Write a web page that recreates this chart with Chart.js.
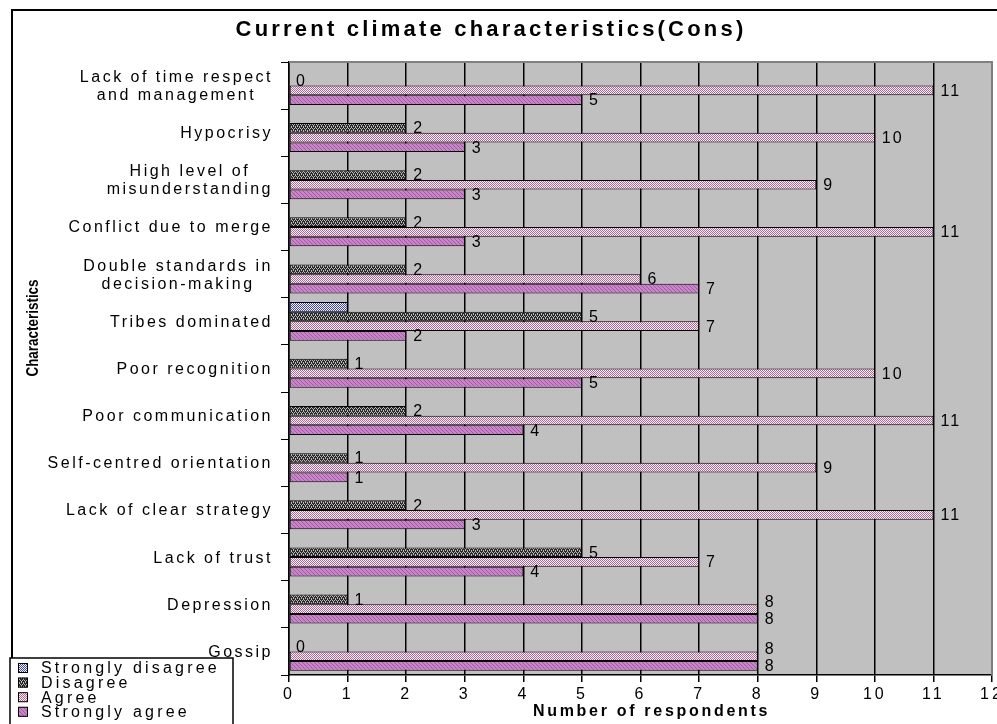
<!DOCTYPE html>
<html>
<head>
<meta charset="utf-8">
<script src="https://cdn.jsdelivr.net/npm/chart.js@4.4.1/dist/chart.umd.min.js"></script>
<style>
  html, body { margin: 0; padding: 0; background: #fff; overflow: hidden; }
  #wrap { width: 997px; height: 724px; overflow: hidden; }
</style>
</head>
<body>
<div id="wrap"><canvas id="chart" width="1010" height="740"></canvas></div>
<script>
// categories, top to bottom
const categories = [
    ['Lack of time respect', 'and management'],
    'Hypocrisy',
    ['High level of', 'misunderstanding'],
    'Conflict due to merge',
    ['Double standards in', 'decision-making'],
    'Tribes dominated',
    'Poor recognition',
    'Poor communication',
    'Self-centred orientation',
    'Lack of clear strategy',
    'Lack of trust',
    'Depression',
    'Gossip'
];
const seriesNames = ['Strongly disagree', 'Disagree', 'Agree', 'Strongly agree'];
const stronglyDisagree = [null, null, null, null, null, 1, null, null, null, null, null, null, null];
const disagree = [0, 2, 2, 2, 2, 5, 1, 2, 1, 2, 5, 1, 0];
const agree = [11, 10, 9, 11, 6, 7, 10, 11, 9, 11, 7, 8, 8];
const stronglyAgree = [5, 3, 3, 3, 7, 2, 5, 4, 1, 3, 4, 8, 8];
const xTicks = [0, 1, 2, 3, 4, 5, 6, 7, 8, 9, 10, 11, 12];

const FONT = '"Liberation Sans", Arial, sans-serif';
Chart.defaults.font.family = FONT;
Chart.defaults.color = '#000';

// little tiled fills like the excel hatches
function makePattern(bg, fg, dots) {
    const c = document.createElement('canvas');
    c.width = 4; c.height = 4;
    const g = c.getContext('2d');
    g.fillStyle = bg;
    g.fillRect(0, 0, 4, 4);
    g.fillStyle = fg;
    dots.forEach(d => g.fillRect(d[0], d[1], 1, 1));
    return g.createPattern(c, 'repeat');
}
const checker = [[0,0],[2,0],[1,1],[3,1],[0,2],[2,2],[1,3],[3,3]];
const diag = [[0,0],[1,1],[2,2],[3,3]];
const patterns = [
    makePattern('#ffffff', '#3a3aff', checker),
    makePattern('#2a2a2a', '#b8b8b8', [[0,0],[2,0],[1,2],[3,2],[1,1],[3,3]]),
    makePattern('#ffffff', '#cc5a94', checker),
    makePattern('#c884c8', '#a658a6', diag)
];
const seriesData = [stronglyDisagree, disagree, agree, stronglyAgree];

const framePlugin = {
    id: 'frame',
    beforeDraw(chart) {
        const ctx = chart.ctx;
        const a = chart.chartArea;
        ctx.save();
        ctx.fillStyle = '#fff';
        ctx.fillRect(0, 0, chart.width, chart.height);
        ctx.strokeStyle = '#000';
        ctx.lineWidth = 2;
        ctx.strokeRect(12, 10, 1100, 800);
        ctx.fillStyle = '#c0c0c0';
        ctx.fillRect(a.left, a.top, a.right - a.left, a.bottom - a.top);
        ctx.restore();
        ctx.letterSpacing = '3px';
    },
    afterDatasetsDraw(chart) {
        const ctx = chart.ctx;
        ctx.save();
        ctx.font = '16px ' + FONT;
        ctx.letterSpacing = '2px';
        ctx.fillStyle = '#000';
        ctx.textBaseline = 'middle';
        ctx.textAlign = 'left';
        const saMeta = chart.getDatasetMeta(3);
        for (let d = 1; d < chart.data.datasets.length; d++) {
            const meta = chart.getDatasetMeta(d);
            meta.data.forEach((el, i) => {
                const v = chart.data.datasets[d].data[i];
                if (v === null) return;
                let y = el.y + 1;
                // excel nudges the agree label up when it would sit on the next one
                if (d === 2 && Math.abs(el.x - saMeta.data[i].x) < 20) y -= 8;
                ctx.fillText(String(v), el.x + 7, y);
            });
        }
        ctx.restore();
    },
    afterDraw(chart) {
        const ctx = chart.ctx;
        const a = chart.chartArea;
        const ys = chart.scales.y;
        ctx.save();
        // plot border top/right
        ctx.strokeStyle = '#808080';
        ctx.lineWidth = 2;
        ctx.beginPath();
        ctx.moveTo(a.left, a.top);
        ctx.lineTo(a.right, a.top);
        ctx.lineTo(a.right, a.bottom);
        ctx.stroke();

        // category labels, block right aligned, lines centred
        ctx.fillStyle = '#000';
        ctx.font = '16px ' + FONT;
        ctx.letterSpacing = '2.5px';
        ctx.textAlign = 'center';
        ctx.textBaseline = 'middle';
        categories.forEach((lab, i) => {
            const lines = Array.isArray(lab) ? lab : [lab];
            const maxW = Math.max(...lines.map(l => ctx.measureText(l).width));
            const xc = a.left - 16 - maxW / 2;
            const yc = ys.getPixelForValue(i);
            lines.forEach((l, k) => {
                ctx.fillText(l, xc, yc + 1 + (k - (lines.length - 1) / 2) * 18);
            });
        });

        // title
        ctx.font = 'bold 22px ' + FONT;
        ctx.letterSpacing = '3.2px';
        ctx.fillText('Current climate characteristics(Cons)', 491, 30);

        // x axis title
        ctx.font = 'bold 16px ' + FONT;
        ctx.letterSpacing = '2.7px';
        ctx.fillText('Number of respondents', (a.left + a.right) / 2 + 11, 712);

        // y axis title (narrow bold)
        ctx.save();
        ctx.translate(34, 328);
        ctx.rotate(-Math.PI / 2);
        ctx.scale(0.84, 1);
        ctx.font = 'bold 16px ' + FONT;
        ctx.letterSpacing = '0px';
        ctx.fillText('Characteristics', 0, 0);
        ctx.restore();

        // legend box
        ctx.fillStyle = '#fff';
        ctx.strokeStyle = '#000';
        ctx.lineWidth = 1.5;
        ctx.fillRect(10, 658, 223, 100);
        ctx.strokeRect(10, 658, 223, 100);
        ctx.font = '16px ' + FONT;
        ctx.letterSpacing = '3.2px';
        ctx.textAlign = 'left';
        seriesNames.forEach((name, i) => {
            const y = 668 + i * 14.6;
            ctx.fillStyle = patterns[i];
            ctx.fillRect(18, y - 5, 10, 10);
            ctx.lineWidth = 1;
            ctx.strokeRect(18.5, y - 4.5, 9, 9);
            ctx.fillStyle = '#000';
            ctx.fillText(name, 41, y + 1);
        });
        ctx.restore();
    }
};

new Chart(document.getElementById('chart'), {
    type: 'bar',
    data: {
        labels: categories,
        datasets: seriesNames.map((name, i) => ({
            label: name,
            data: seriesData[i],
            backgroundColor: patterns[i],
            borderColor: '#000',
            borderWidth: 1,
            borderSkipped: false,
            categoryPercentage: 0.82,
            barPercentage: 1
        }))
    },
    options: {
        indexAxis: 'y',
        responsive: false,
        animation: false,
        layout: { padding: { top: 62, right: 18, bottom: 18, left: 0 } },
        plugins: {
            legend: { display: false },
            tooltip: { enabled: false },
            title: { display: false }
        },
        scales: {
            x: {
                min: 0,
                max: 12,
                afterBuildTicks: s => { s.ticks = xTicks.map(v => ({ value: v })); },
                ticks: { autoSkip: false, maxRotation: 0, padding: 3, font: { size: 16 } },
                grid: { color: '#000', lineWidth: 1.5, tickLength: 7 },
                border: { color: '#000', width: 1.5 },
                afterFit: s => { s.height = 47; }
            },
            y: {
                ticks: { display: false },
                grid: { drawOnChartArea: false, color: '#000', tickLength: 8, offset: true },
                border: { color: '#000', width: 1.5 },
                afterFit: s => { s.width = 289; }
            }
        }
    },
    plugins: [framePlugin]
});
</script>
</body>
</html>
